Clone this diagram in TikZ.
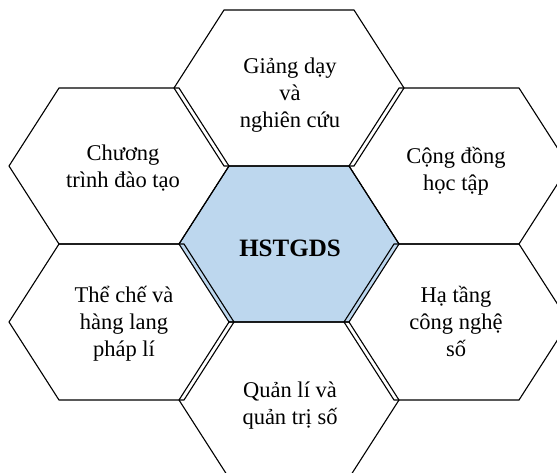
\documentclass[tikz,border=0pt]{standalone}
\usepackage{fontspec}
\setmainfont{Liberation Serif}
\definecolor{hexblue}{RGB}{189,215,238}
\newcommand\hexoutline[5][]{%
  \path[#1] ({#2-#4},#3) -- ({#2-#4+50},{#3-78}) -- ({#2+#5-50},{#3-78})
    -- ({#2+#5},#3) -- ({#2+#5-50},{#3+78}) -- ({#2-#4+50},{#3+78}) -- cycle;}
\newcommand\hexlabel[1]{\begin{tabular}[t]{@{}c@{}}#1\end{tabular}}
\begin{document}
\begin{tikzpicture}[x=1pt,y=-1pt,
  hexline/.style={draw=black,line width=1.1pt,line join=miter},
  lbl/.style={inner sep=0pt,anchor=base,font=\fontsize{22.5}{27}\selectfont},
  ctr/.style={inner sep=0pt,anchor=base,font=\fontsize{25}{30}\selectfont\bfseries}]
\useasboundingbox[fill=white] (0,0) rectangle (557,472);
% centre hexagon (filled)
\hexoutline[hexline,fill=hexblue]{289}{244}{110}{110}
% outer hexagons
\hexoutline[hexline]{289}{88}{115}{115}
\hexoutline[hexline]{119}{166}{110}{110}
\hexoutline[hexline]{459}{166}{110}{110}
\hexoutline[hexline]{119}{322}{110}{115}
\hexoutline[hexline]{459}{322}{115}{110}
\hexoutline[hexline]{289}{400}{110}{110}
% labels
\node[ctr] (hs) at (290,256) {HSTGDS};
\node[lbl] (gd) at (290,73) {\hexlabel{Giảng dạy\\và\\nghiên cứu}};
\node[lbl] (ct) at (123,160) {\hexlabel{Chương\\trình đào tạo}};
\node[lbl] (cd) at (456,163) {\hexlabel{Cộng đồng\\học tập}};
\node[lbl] (tc) at (124,302) {\hexlabel{Thể chế và\\hàng lang\\pháp lí}};
\node[lbl] (ht) at (456,302) {\hexlabel{Hạ tầng\\công nghệ\\số}};
\node[lbl] (ql) at (290,397) {\hexlabel{Quản lí và\\quản trị số}};
\end{tikzpicture}
\end{document}
